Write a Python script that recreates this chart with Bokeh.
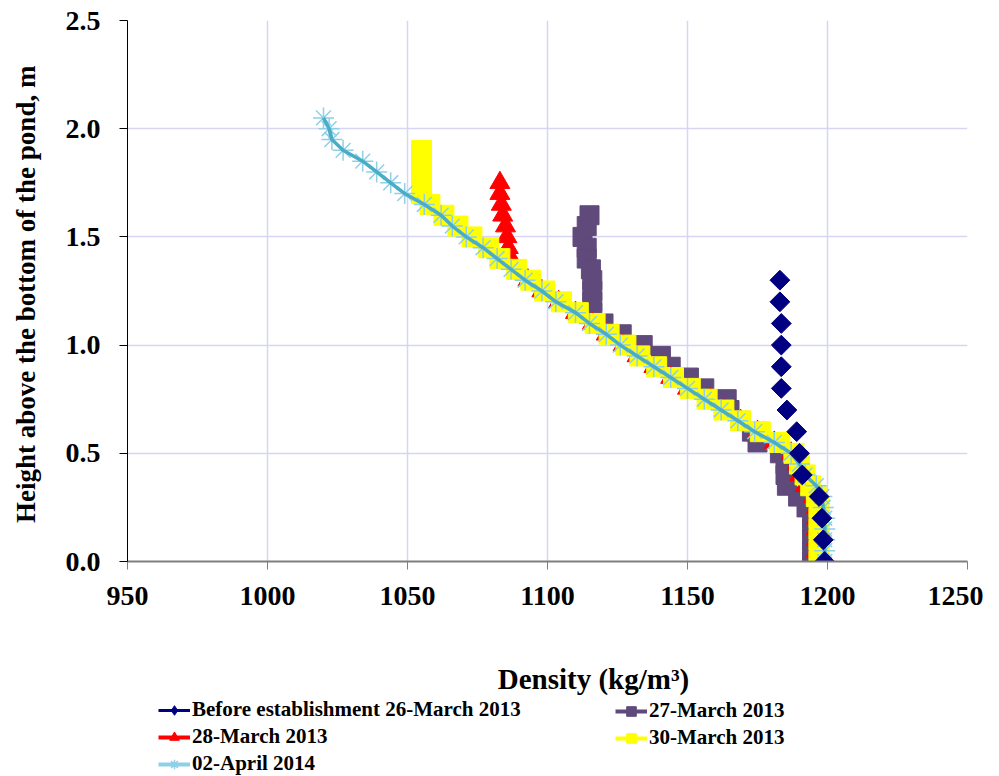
import numpy as np
from bokeh.plotting import figure
from bokeh.layouts import column
from bokeh.models import Legend, LegendItem, Label, FixedTicker, PrintfTickFormatter
from bokeh.embed import file_html
from bokeh.resources import INLINE

# ---------------- data ----------------
# Before establishment 26-March 2013
h_before = [1.30, 1.20, 1.10, 1.00, 0.90, 0.80, 0.70, 0.60, 0.50, 0.40, 0.30, 0.20, 0.10, 0.00]
d_before = [1183, 1183, 1183.5, 1183.5, 1183.5, 1183.5, 1185.5, 1189, 1190, 1191, 1197, 1198, 1198.5, 1199]

# 27-March 2013
h_27 = [1.60, 1.55, 1.50, 1.45, 1.40, 1.35, 1.30, 1.25, 1.20, 1.15, 1.10, 1.05, 1.00, 0.95, 0.90,
        0.85, 0.80, 0.75, 0.70, 0.65, 0.60, 0.55, 0.50, 0.45, 0.40, 0.35, 0.30, 0.25, 0.20, 0.15,
        0.10, 0.05, 0.00]
d_27 = [1115, 1114, 1112.5, 1114, 1114, 1115.5, 1116, 1116, 1116, 1116, 1120, 1126.5, 1134, 1140.5, 1144,
        1150.5, 1156, 1164, 1165, 1169, 1173, 1175, 1183, 1185, 1185, 1185.5, 1189.5, 1192.5, 1194.5, 1194.5,
        1194.5, 1194.5, 1194.5]

# 28-March 2013
h_28 = [1.75, 1.70, 1.65, 1.60, 1.55, 1.50, 1.45, 1.40, 1.35, 1.30, 1.25, 1.20, 1.15, 1.10, 1.05,
        1.00, 0.95, 0.90, 0.85, 0.80, 0.75, 0.70, 0.65, 0.60, 0.55, 0.50, 0.45, 0.40, 0.35, 0.30,
        0.25, 0.20, 0.15, 0.10, 0.05, 0.00]
d_28 = [1083, 1083, 1083.5, 1084, 1085, 1085.5, 1086, 1087, 1089, 1093, 1098, 1104, 1110, 1116, 1121,
        1127, 1132, 1138, 1144, 1150, 1158, 1163, 1169, 1175, 1181, 1187, 1189, 1190, 1192, 1195,
        1196, 1196, 1196, 1196, 1196, 1197]

# 30-March 2013
h_30 = [1.90, 1.85, 1.80, 1.75, 1.70, 1.65, 1.60, 1.55, 1.50, 1.45, 1.40, 1.35, 1.30, 1.25, 1.20,
        1.15, 1.10, 1.05, 1.00, 0.95, 0.90, 0.85, 0.80, 0.75, 0.70, 0.65, 0.60, 0.55, 0.50, 0.45,
        0.40, 0.35, 0.30, 0.25, 0.20, 0.15, 0.10, 0.05, 0.00]
d_30 = [1055, 1055, 1055, 1055, 1055, 1058, 1063, 1068, 1073, 1079, 1083, 1089, 1094, 1099, 1105,
        1111, 1117, 1122, 1128, 1133, 1139, 1145, 1151, 1157, 1163, 1169, 1176, 1183, 1188, 1190,
        1192, 1194, 1196, 1197, 1197, 1197, 1197, 1197, 1197]

# 02-April 2014
h_02 = [2.05, 2.00, 1.95, 1.90, 1.85, 1.80, 1.75, 1.70, 1.65, 1.60, 1.55, 1.50, 1.45, 1.40, 1.35,
        1.30, 1.25, 1.20, 1.15, 1.10, 1.05, 1.00, 0.95, 0.90, 0.85, 0.80, 0.75, 0.70, 0.65, 0.60,
        0.55, 0.50, 0.45, 0.40, 0.35, 0.30, 0.25, 0.20, 0.15, 0.10, 0.05, 0.00]
d_02 = [1020, 1022, 1023, 1027, 1034, 1039, 1044, 1049, 1056, 1062, 1066, 1071, 1077, 1082, 1087,
        1092, 1098, 1103, 1110, 1115, 1121, 1126, 1132, 1138, 1144, 1150, 1156, 1162, 1168, 1174,
        1181, 1187, 1190, 1192, 1196, 1198, 1198.5, 1199, 1199, 1199, 1199, 1199]

x_ticks = [950, 1000, 1050, 1100, 1150, 1200, 1250]
y_ticks = [0.0, 0.5, 1.0, 1.5, 2.0, 2.5]

labels = ["Before establishment 26-March 2013", "27-March 2013", "28-March 2013",
          "30-March 2013", "02-April 2014"]
x_title = "Density (kg/m³)"
y_title = "Height above the  bottom of the pond, m"

FONT = "Liberation Serif"
NAVY = "#000080"
PURPLE = "#604a7b"
RED = "#ff0000"
YELLOW = "#ffff00"
CYAN = "#4bacc6"
CYAN_LIGHT = "#8fd0e6"

W = 983
H1 = 625
H2 = 151

# ---------------- main plot ----------------
p = figure(width=W, height=H1, x_range=(950, 1250), y_range=(0, 2.5),
           output_backend="svg", toolbar_location=None,
           min_border_left=127, min_border_top=20, min_border_right=16, min_border_bottom=64)
p.outline_line_color = None
p.background_fill_color = "white"

p.xaxis.ticker = FixedTicker(ticks=x_ticks)
p.yaxis.ticker = FixedTicker(ticks=y_ticks)
p.yaxis.formatter = PrintfTickFormatter(format="%.1f")
for ax in (p.xaxis[0], p.yaxis[0]):
    ax.major_label_text_font = FONT
    ax.major_label_text_font_style = "bold"
    ax.major_label_text_font_size = "28px"
    ax.major_label_text_color = "black"
    ax.major_tick_out = 8
    ax.major_tick_in = 0
    ax.minor_tick_line_color = None
    ax.major_tick_line_width = 1
p.xaxis.axis_line_color = "#7f7f7f"
p.xaxis.major_tick_line_color = "#7f7f7f"
p.xaxis.axis_line_width = 2
p.yaxis.axis_line_color = "black"
p.yaxis.major_tick_line_color = "black"
p.xaxis.major_label_standoff = 17
p.yaxis.major_label_standoff = 19

p.yaxis.axis_label = y_title
p.yaxis.axis_label_text_font = FONT
p.yaxis.axis_label_text_font_style = "bold"
p.yaxis.axis_label_text_font_size = "27px"
p.yaxis.axis_label_text_color = "black"
p.yaxis.axis_label_standoff = 22

p.grid.grid_line_color = "#d6d6f4"
p.grid.grid_line_width = 1.5

r27 = p.scatter(d_27, h_27, marker="square", size=19, fill_color=PURPLE, line_color=PURPLE)
r28 = p.scatter(d_28, h_28, marker="triangle", size=20, fill_color=RED, line_color=RED)
r30 = p.scatter(d_30, h_30, marker="square", size=20, fill_color=YELLOW, line_color=YELLOW)
r02m = p.scatter(d_02, h_02, marker="asterisk", size=21, line_color=CYAN_LIGHT, line_width=1.5)
r02l = p.line(d_02, h_02, line_color=CYAN, line_width=3.5)
rbef = p.scatter(d_before, h_before, marker="square", angle=np.pi / 4, size=14,
                 fill_color=NAVY, line_color=NAVY)

# ---------------- legend / x-title strip ----------------
# Its frame is aligned with the main frame (left edge at x=127). The proxy
# renderers carry the series data but this strip's ranges keep them out of view;
# they exist only so the legend can draw each series' line + marker swatch.
q = figure(width=W, height=H2, x_range=(0, 1), y_range=(0, 1),
           x_axis_type=None, y_axis_type=None,
           output_backend="svg", toolbar_location=None,
           min_border_left=0, min_border_right=0, min_border_top=0, min_border_bottom=0)
q.outline_line_color = None
q.grid.visible = False

lg_bef_l = q.line(d_before, h_before, line_color=NAVY, line_width=3)
lg_bef_m = q.scatter(d_before, h_before, marker="diamond", size=12, fill_color=NAVY, line_color=NAVY)
lg_27_l = q.line(d_27, h_27, line_color=PURPLE, line_width=4)
lg_27_m = q.scatter(d_27, h_27, marker="square", size=10, fill_color=PURPLE, line_color=PURPLE)
lg_28_l = q.line(d_28, h_28, line_color=RED, line_width=4)
lg_28_m = q.scatter(d_28, h_28, marker="triangle", size=10, fill_color=RED, line_color=RED)
lg_30_l = q.line(d_30, h_30, line_color=YELLOW, line_width=4)
lg_30_m = q.scatter(d_30, h_30, marker="square", size=10, fill_color=YELLOW, line_color=YELLOW)
lg_02_l = q.line(d_02, h_02, line_color=CYAN_LIGHT, line_width=4)
lg_02_m = q.scatter(d_02, h_02, marker="asterisk", size=10, line_color=CYAN_LIGHT, line_width=1.5)


def make_legend(items, loc):
    lg = Legend(items=items, location=loc, orientation="vertical")
    lg.label_text_font = FONT
    lg.label_text_font_style = "bold"
    lg.label_text_font_size = "21px"
    lg.label_text_color = "black"
    lg.glyph_width = 32
    lg.glyph_height = 24
    lg.label_height = 24
    lg.label_standoff = 2
    lg.spacing = 2
    lg.padding = 0
    lg.margin = 0
    lg.border_line_color = None
    lg.background_fill_alpha = 0
    return lg


leg1 = make_legend([
    LegendItem(label=labels[0], renderers=[lg_bef_l, lg_bef_m]),
    LegendItem(label=labels[2], renderers=[lg_28_l, lg_28_m]),
    LegendItem(label=labels[4], renderers=[lg_02_l, lg_02_m]),
], (31, 0))
leg2 = make_legend([
    LegendItem(label=labels[1], renderers=[lg_27_l, lg_27_m]),
    LegendItem(label=labels[3], renderers=[lg_30_l, lg_30_m]),
], (488, 26))
q.add_layout(leg1, "center")
q.add_layout(leg2, "center")

xt = Label(x=466, y=H2 - 53, x_units="screen", y_units="screen", text=x_title,
           text_align="center", text_baseline="middle", text_font=FONT,
           text_font_style="bold", text_font_size="29px", text_color="black")
q.add_layout(xt)

layout = column(p, q, spacing=0)
open("out.html", "w").write(file_html(layout, INLINE))
